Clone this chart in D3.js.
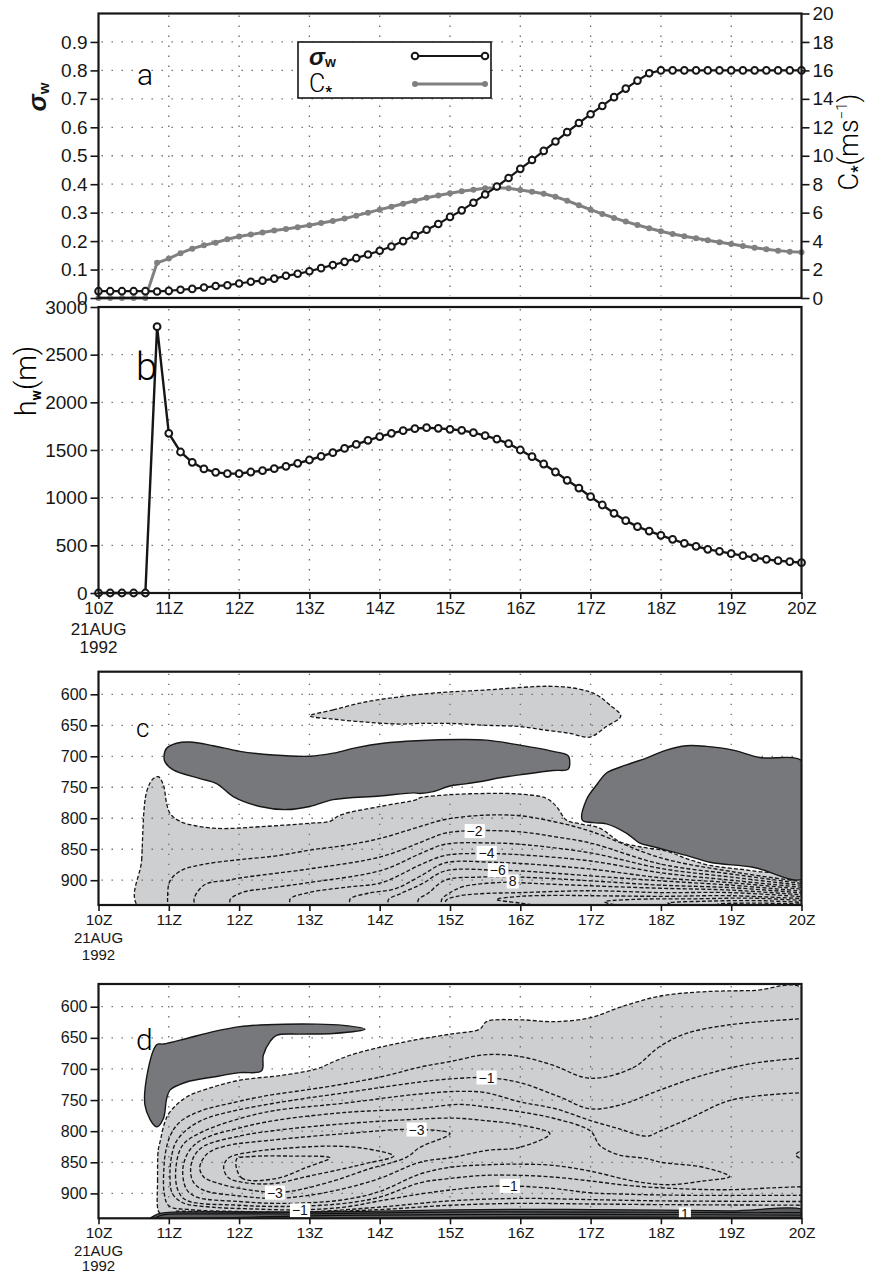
<!DOCTYPE html>
<html><head><meta charset="utf-8">
<script src="https://cdn.jsdelivr.net/npm/d3@7"></script>
<style>body{margin:0;background:#fff}svg{display:block}</style>
</head><body>
<svg id="chart" width="869" height="1274"></svg>
<script>
// ---------------- DATA ----------------
const timeMinutes = [0,10,20,30,40,50,60,70,80,90,100,110,120,130,140,150,160,170,180,190,200,210,220,230,240,250,260,270,280,290,300,310,320,330,340,350,360,370,380,390,400,410,420,430,440,450,460,470,480,490,500,510,520,530,540,550,560,570,580,590,600];
const sigmaW = [0.024,0.024,0.024,0.024,0.024,0.023,0.025,0.029,0.032,0.037,0.042,0.045,0.051,0.057,0.061,0.068,0.078,0.085,0.094,0.105,0.116,0.127,0.140,0.153,0.166,0.181,0.200,0.220,0.240,0.260,0.285,0.308,0.335,0.364,0.392,0.422,0.454,0.485,0.517,0.550,0.583,0.615,0.646,0.675,0.706,0.736,0.764,0.790,0.800,0.800,0.800,0.800,0.800,0.800,0.800,0.800,0.800,0.800,0.800,0.800,0.800];
const cStar = [0,0,0,0,0,2.47,2.77,3.15,3.47,3.71,3.89,4.13,4.32,4.46,4.60,4.74,4.85,4.97,5.11,5.27,5.42,5.58,5.79,6.00,6.21,6.42,6.63,6.84,7.05,7.20,7.36,7.50,7.61,7.71,7.75,7.71,7.59,7.47,7.33,7.12,6.84,6.52,6.21,5.91,5.63,5.37,5.13,4.90,4.69,4.50,4.34,4.20,4.06,3.92,3.80,3.66,3.54,3.43,3.33,3.26,3.22];
const hW = [0,0,0,0,0,2794,1675,1479,1371,1301,1266,1252,1252,1269,1283,1304,1329,1360,1395,1434,1472,1517,1559,1601,1640,1675,1703,1724,1734,1727,1717,1706,1682,1650,1615,1566,1500,1430,1353,1269,1182,1101,1010,923,836,759,696,650,605,563,521,490,458,437,413,392,371,353,339,329,318];

const hourTicks = [0,1,2,3,4,5,6,7,8,9,10];
const hourLabels = ["10Z","11Z","12Z","13Z","14Z","15Z","16Z","17Z","18Z","19Z","20Z"];
const dateLabels = ["21AUG","1992"];
const sigmaTicks = [0,0.1,0.2,0.3,0.4,0.5,0.6,0.7,0.8,0.9];
const sigmaTickLabels = ["0","0.1","0.2","0.3","0.4","0.5","0.6","0.7","0.8","0.9"];
const cStarTicks = [0,2,4,6,8,10,12,14,16,18,20];
const hTicks = [0,500,1000,1500,2000,2500,3000];
const pTicks = [600,650,700,750,800,850,900];

// Panel c: contour outlines, [hour after 10Z, hPa]
const cUpperTongue = [[3.007,635],[3.339,625],[3.813,612],[4.287,604],[4.571,600],[5.007,596],[5.519,593],[5.993,589],[6.372,587],[6.704,589],[6.988,596],[7.13,604],[7.272,617],[7.429,635],[7.225,652],[6.988,669],[6.704,663],[6.372,658],[5.993,652],[5.519,650],[5.007,647],[4.571,647],[4.287,648],[3.813,645],[3.339,640]];
const cDarkLeft = [[0.932,700],[0.969,687],[1.11,679],[1.3,677],[1.633,683],[2.012,692],[2.486,698],[3.007,700],[3.339,695],[3.671,686],[4.05,679],[4.524,675],[5.14,673],[5.519,674],[5.993,682],[6.467,692],[6.68,699],[6.704,711],[6.68,721],[6.467,723],[5.993,730],[5.685,735],[5.519,739],[5.187,745],[4.998,748],[4.761,757],[4.571,760],[4.476,759],[4.003,764],[3.339,770],[3.007,781],[2.676,786],[2.297,781],[1.917,765],[1.68,744],[1.443,736],[1.064,722],[0.946,709]];
const cDarkRight = [[6.883,803],[6.941,770],[7.1,744],[7.225,727],[7.509,714],[7.793,703],[8.078,690],[8.362,683],[8.646,684],[9.026,690],[9.405,702],[10.05,711],[10.05,896],[9.31,879],[8.697,871],[8.362,860],[7.893,846],[7.7,840],[7.509,824],[7.225,809],[7.036,807]];
const cZero = [[0.581,945],[0.614,867],[0.685,757],[0.78,736],[0.851,733],[0.922,746],[0.969,776],[1.017,792],[1.159,805],[1.633,816],[2.391,813],[3.007,808],[3.292,805],[3.434,795],[4.003,781],[4.524,770],[4.571,767],[5.007,762],[5.519,760],[5.993,761],[6.372,768],[6.514,781],[6.656,803],[6.846,809],[7.13,816],[7.415,838],[7.7,846],[8.078,853],[8.362,865],[8.694,876],[9.31,885],[10.05,900],[10.05,945]];
const cNeg1 = [[0.99,945],[0.983,929],[1.017,901],[1.183,884],[1.514,874],[1.988,867],[2.509,861],[3.031,851],[3.552,843],[4.026,832],[4.5,816],[4.93,802],[5.5,795],[6.0,796],[6.5,806],[7.0,821],[8.0,864],[9.0,886],[10.05,903]];
const cNeg2 = [[1.40,945],[1.358,931],[1.514,907],[1.846,900],[2.036,896],[2.983,882],[4.026,862],[4.6,838],[4.93,824],[5.35,820],[6.0,822],[6.5,830],[7.0,840],[8.0,874],[9.0,890],[10.05,906]];
const cNeg3 = [[1.9,945],[1.87,932],[2.036,920],[2.415,913],[2.983,904],[4.026,884],[4.6,856],[4.93,842],[5.6,840],[6.0,842],[7.0,856],[8.0,881],[9.0,895],[10.05,909]];
const cNeg4 = [[2.75,945],[2.723,931],[2.983,920],[3.552,911],[4.026,904],[4.6,874],[4.93,860],[5.52,857],[6.0,859],[7.0,869],[8.0,888],[9.0,900],[10.05,912]];
const cNeg5 = [[3.6,945],[3.576,931],[3.836,921],[4.216,914],[4.6,892],[4.93,872],[5.6,871],[6.0,873],[7.0,882],[8.0,896],[9.0,904],[10.05,915]];
const cNeg6 = [[4.15,945],[4.121,932],[4.31,921],[4.6,906],[4.93,885],[5.68,884],[6.0,885],[7.0,893],[8.0,901],[9.0,908],[10.05,918]];
const cNeg7 = [[4.57,945],[4.547,932],[4.689,921],[4.93,900],[5.4,895],[6.0,895],[7.0,901],[8.0,908],[9.0,912],[10.05,921]];
const cNeg8 = [[4.90,945],[4.879,932],[4.974,922],[5.2,910],[5.89,903],[6.0,904],[7.0,909],[8.0,913],[9.0,916],[10.05,924]];
const cNeg9 = [[4.96,945],[4.94,933],[5.1,926],[5.4,922],[6.0,920],[7.0,917],[8.0,920],[9.0,920],[10.05,927]];
const cNeg10 = [[6.6,945],[6.0,937],[5.66,931],[6.0,926],[6.5,924.5],[7.0,925],[8.0,926],[9.0,925],[10.05,930]];
const cNeg11 = [[7.6,945],[7.2,935],[7.6,931],[8.5,930],[9.3,929],[10.05,933]];
const cNeg12 = [[8.4,945],[8.1,937],[8.6,934],[9.4,933],[10.05,936]];
const cNeg13 = [[9.0,945],[8.8,939],[9.3,937],[10.05,938.5]];
const cLabels = [{t:"\u22122",h:5.35,p:820.6},{t:"\u22124",h:5.52,p:856},{t:"\u22126",h:5.68,p:884},{t:"8",h:5.89,p:902}];

// Panel d
const dDark = [[0.828,661],[0.661,758],[0.828,793],[0.922,780],[0.969,748],[1.017,734],[1.254,721],[1.633,713],[2.012,706],[2.32,703],[2.344,678],[2.439,656],[2.533,646],[2.865,644],[3.339,643],[3.789,636],[3.481,630],[3.102,628],[2.391,629],[2.012,632],[1.633,640],[1.254,651],[0.922,660]];
const dZero = [[0.85,928],[0.84,880],[0.85,830],[0.874,818],[0.945,785],[1.017,769],[1.254,745],[1.633,729],[2.012,718],[2.628,710],[3.102,700],[3.292,691],[3.576,678],[4.05,664],[4.524,653],[5.007,644],[5.424,636],[5.519,624],[5.993,621],[6.467,624],[6.988,618],[7.414,601],[7.983,583],[8.599,576],[9.31,574],[10.05,573],[10.05,945],[1.0,945],[0.9,935]];
const dPositive = [[0.71,945],[0.85,933],[1.0,930.5],[2,930],[3,930],[4,928.5],[5,926.5],[6,925.5],[7,926],[8,927],[9,928],[10.05,928],[10.05,945]];
const dPos1 = [[0.75,943],[0.9,935],[1.5,933],[3,933],[5,930],[7,930],[9,931],[10.05,931]];
const dPos2 = [[1.2,941],[3,936],[5,934],[8,934],[10.05,935]];
const dPos3 = [[3,941],[6,938],[10.05,938.5]];
const dNeg05 = [[10.05,619],[8.978,629],[8.362,643],[7.983,664],[7.604,698],[6.988,715],[6.467,694],[5.993,680],[5.519,677],[5.007,688],[4.571,697],[4.05,712],[3.34,727],[2.87,735],[2.39,743],[1.92,754],[1.44,768],[1.16,785],[1.03,805],[0.96,830],[0.93,860],[0.935,900],[1.0,920],[1.3,926],[2.0,929],[3.0,929.5],[4.0,922],[5.0,912],[6.0,908],[7.0,910],[8.0,912],[10.05,913]];
const dNeg1 = [[10.05,682],[9.31,691],[8.599,710],[7.983,734],[7.414,758],[6.988,764],[6.562,745],[5.993,722],[5.519,714],[5.007,716],[4.571,721],[4.0,730],[3.4,740],[2.9,748],[2.4,757],[1.9,768],[1.5,781],[1.25,798],[1.1,818],[1.04,840],[1.016,870],[1.05,900],[1.2,915],[1.6,922],[2.2,925],[2.865,926.5],[3.5,922],[4.0,912],[4.571,901],[5.045,894],[5.519,889],[5.85,888],[6.467,892],[6.988,899],[7.414,901],[8.362,903],[10.05,903]];
const dNeg15 = [[10.05,738],[9.0,750],[8.4,780],[8.0,799],[7.8,808],[7.4,796],[7.0,783],[6.5,764],[6.0,753],[5.5,738],[5.14,736],[4.5,741],[3.5,755],[2.5,767],[2.0,780],[1.5,800],[1.2,822],[1.1,860],[1.13,895],[1.25,911],[2.0,919],[2.5,921],[3.0,920],[3.5,916],[4.0,906],[4.571,883],[5.0,876],[5.5,871],[6.0,871],[6.5,874],[7.0,880],[7.6,888],[8.4,893],[9.0,894],[9.6,891],[10.05,889]];
const dNeg2 = [[8.978,873],[8.599,858],[8.0,850],[7.8,844],[7.4,838],[7.13,823],[7.0,800],[6.5,780],[6.0,769],[5.5,761],[5.14,757],[4.5,764],[3.5,770],[2.5,783],[2.0,795],[1.5,812],[1.3,830],[1.2,860],[1.25,893],[1.4,906],[2.0,913],[2.5,916],[3.0,915],[3.5,910],[4.0,897],[4.571,869],[5.007,858],[5.519,854],[5.993,853],[6.467,855],[6.988,864],[7.651,881],[8.125,886],[8.599,880]];
const dNeg25 = [[6.42,804],[5.993,826],[5.519,831],[5.045,842],[4.571,850],[4.0,876],[3.5,892],[3.0,903],[2.5,908],[2.0,904],[1.5,895],[1.35,882],[1.31,862],[1.36,840],[1.5,824],[2.0,808],[2.5,799],[3.5,788],[4.5,781],[5.05,779],[5.5,783],[6.0,790]];
const dNeg3 = [[5.0,804],[4.52,797],[3.5,804],[2.5,814],[1.8,824],[1.55,836],[1.44,858],[1.5,874],[1.68,883],[2.01,892],[2.51,898.6],[2.77,896],[3.34,880],[3.81,862],[4.38,842],[4.571,826]];
const dNeg35 = [[1.78,858],[1.85,843],[2.2,833],[2.5,829],[3.3,824],[3.8,828],[4.2,840],[3.8,852],[3.5,860],[3.0,872],[2.5,884],[2.1,883],[1.85,875]];
const dNeg4 = [[1.964,845],[2.036,875],[2.533,876],[2.96,858],[3.292,843],[2.723,840],[2.154,841]];
const dNegEdge = [[10.05,828],[9.92,838],[10.05,848]];
const dNegLow = [[1.1,928.5],[2,929.8],[3,929.8],[4,926],[5,919],[6,916],[7,917],[8,918],[10.05,919]];
const dLabels = [{t:"\u22121",h:5.519,p:713.7},{t:"\u22123",h:4.524,p:797.3},{t:"\u22123",h:2.509,p:898.6},{t:"\u22121",h:2.865,p:927.2},{t:"\u22121",h:5.85,p:887.8},{t:"1",h:8.34,p:933.6}];

// ---------------- DRAWING ----------------
const FONT = "'Liberation Sans', Arial, Helvetica, sans-serif";
const THIN = "Roboto, 'DejaVu Sans', sans-serif";
const INK = "#161616", LIGHT = "#cecfd1", DARK = "#77787b", GRAYLINE = "#808080";
const svg = d3.select("#chart");
const hours = timeMinutes.map(m => m / 60);

const x = d3.scaleLinear().domain([0, 10]).range([98.5, 801.5]);
const ya = d3.scaleLinear().domain([0, 1]).range([298, 13.5]);
const yaR = d3.scaleLinear().domain([0, 20]).range([298, 13.5]);
const yb = d3.scaleLinear().domain([0, 3000]).range([593, 307]);
const yc = d3.scaleLinear().domain([563.5, 940]).range([671.7, 905]);
const yd = d3.scaleLinear().domain([563.5, 940]).range([984, 1218.3]);

function gridLines(g, yS, yVals, y0, y1) {
  const gg = g.append("g").attr("stroke", "#6a6a6a").attr("stroke-width", 1.3).attr("stroke-dasharray", "1.4,8.6");
  [1,2,3,4,5,6,7,8,9].forEach(h => gg.append("line").attr("x1", x(h)).attr("x2", x(h)).attr("y1", y0 + 2).attr("y2", y1 - 2));
  yVals.forEach(v => gg.append("line").attr("x1", x(0) + 3).attr("x2", x(10) - 3).attr("y1", yS(v)).attr("y2", yS(v)));
}
function styleAxis(g, fs) {
  g.select(".domain").remove();
  g.attr("font-family", FONT).attr("font-size", fs);
  g.selectAll("line").attr("stroke", INK).attr("stroke-width", 1.6);
  g.selectAll("text").attr("fill", INK);
}
function frame(y0, y1) {
  svg.append("rect").attr("x", x(0)).attr("y", y0).attr("width", x(10) - x(0)).attr("height", y1 - y0)
    .attr("fill", "none").attr("stroke", INK).attr("stroke-width", 2.2);
}
function xAxis(yBottom, fs, dfs, d1, d2) {
  const g = svg.append("g").attr("transform", `translate(0,${yBottom})`)
    .call(d3.axisBottom(x).tickValues(hourTicks).tickFormat((d, i) => hourLabels[i]).tickSize(6).tickPadding(3));
  styleAxis(g, fs);
  svg.append("text").attr("x", x(0)).attr("y", yBottom + d1).attr("text-anchor", "middle").attr("font-family", FONT).attr("font-size", dfs).attr("fill", INK).text(dateLabels[0]);
  svg.append("text").attr("x", x(0)).attr("y", yBottom + d2).attr("text-anchor", "middle").attr("font-family", FONT).attr("font-size", dfs).attr("fill", INK).text(dateLabels[1]);
}
function panelLetter(t, px, py, fs) {
  svg.append("text").attr("x", px).attr("y", py).attr("font-family", THIN).attr("font-weight", 300).attr("font-size", fs).attr("fill", "#000").text(t);
}

// ===== Panel a =====
gridLines(svg, ya, [0.1,0.2,0.3,0.4,0.5,0.6,0.7,0.8,0.9], 13.5, 298);
svg.append("path").attr("d", d3.line().x((d, i) => x(hours[i])).y(d => yaR(d))(cStar)).attr("fill", "none").attr("stroke", GRAYLINE).attr("stroke-width", 3);
svg.append("g").selectAll("circle").data(cStar).join("circle").attr("cx", (d, i) => x(hours[i])).attr("cy", d => yaR(d)).attr("r", 3).attr("fill", GRAYLINE);
svg.append("path").attr("d", d3.line().x((d, i) => x(hours[i])).y(d => ya(d))(sigmaW)).attr("fill", "none").attr("stroke", INK).attr("stroke-width", 2.2);
svg.append("g").selectAll("circle").data(sigmaW).join("circle").attr("cx", (d, i) => x(hours[i])).attr("cy", d => ya(d)).attr("r", 3.3).attr("fill", "#fff").attr("stroke", INK).attr("stroke-width", 2);
frame(13.5, 298);
styleAxis(svg.append("g").attr("transform", `translate(${x(0)},0)`).call(d3.axisLeft(ya).tickValues(sigmaTicks).tickFormat((d, i) => sigmaTickLabels[i]).tickSize(8).tickPadding(3)), 19);
styleAxis(svg.append("g").attr("transform", `translate(${x(10)},0)`).call(d3.axisRight(yaR).tickValues(cStarTicks).tickFormat(d3.format("d")).tickSize(8).tickPadding(3)), 19);
// legend
svg.append("rect").attr("x", 298).attr("y", 42).attr("width", 193).attr("height", 56).attr("fill", "#fff").attr("stroke", INK).attr("stroke-width", 1.6);
svg.append("line").attr("x1", 415).attr("x2", 485).attr("y1", 56).attr("y2", 56).attr("stroke", INK).attr("stroke-width", 2.2);
[415, 485].forEach(cx => svg.append("circle").attr("cx", cx).attr("cy", 56).attr("r", 3.3).attr("fill", "#fff").attr("stroke", INK).attr("stroke-width", 2));
svg.append("line").attr("x1", 415).attr("x2", 485).attr("y1", 84).attr("y2", 84).attr("stroke", GRAYLINE).attr("stroke-width", 3);
[415, 485].forEach(cx => svg.append("circle").attr("cx", cx).attr("cy", 84).attr("r", 3).attr("fill", GRAYLINE));
const lg1 = svg.append("text").attr("x", 309).attr("y", 65).attr("font-family", FONT).attr("fill", INK);
lg1.append("tspan").attr("font-size", 24).attr("font-style", "italic").attr("font-weight", "bold").text("σ");
lg1.append("tspan").attr("font-size", 14).attr("dy", 2).attr("font-weight", "bold").text("w");
const lg2 = svg.append("text").attr("x", 309).attr("y", 92).attr("font-family", THIN).attr("font-weight", 300).attr("fill", "#000");
lg2.append("tspan").attr("font-size", 25).text("C");
lg2.append("tspan").attr("font-size", 15).attr("dy", 5).attr("font-weight", "bold").text("*");
// axis titles
const sl = svg.append("text").attr("transform", "translate(46,97) rotate(-90)").attr("text-anchor", "middle").attr("font-family", FONT).attr("fill", INK);
sl.append("tspan").attr("font-size", 26).attr("font-style", "italic").attr("font-weight", "bold").text("σ");
sl.append("tspan").attr("font-size", 15).attr("dy", 3).attr("font-weight", "bold").text("w");
const rl = svg.append("text").attr("transform", "translate(858,142) rotate(-90)").attr("text-anchor", "middle").attr("font-family", THIN).attr("font-weight", 300).attr("fill", "#000");
rl.append("tspan").attr("font-size", 27).text("C");
rl.append("tspan").attr("font-size", 16).attr("dy", 5).attr("font-weight", "bold").text("*");
rl.append("tspan").attr("font-size", 27).attr("dy", -5).text("(ms");
rl.append("tspan").attr("font-size", 15).attr("dy", -11).text("\u22121");
rl.append("tspan").attr("font-size", 27).attr("dy", 11).text(")");
panelLetter("a", 137, 85, 30);

// ===== Panel b =====
gridLines(svg, yb, [500,1000,1500,2000,2500], 307, 593);
svg.append("path").attr("d", d3.line().x((d, i) => x(hours[i])).y(d => yb(d))(hW)).attr("fill", "none").attr("stroke", INK).attr("stroke-width", 2.4);
svg.append("g").selectAll("circle").data(hW).join("circle").attr("cx", (d, i) => x(hours[i])).attr("cy", d => yb(d)).attr("r", 3.4).attr("fill", "#fff").attr("stroke", INK).attr("stroke-width", 2);
frame(307, 593);
styleAxis(svg.append("g").attr("transform", `translate(${x(0)},0)`).call(d3.axisLeft(yb).tickValues(hTicks).tickFormat(d3.format("d")).tickSize(8).tickPadding(3)), 19);
xAxis(593, 17, 17, 42, 60);
const hl = svg.append("text").attr("transform", "translate(36,381) rotate(-90)").attr("text-anchor", "middle").attr("font-family", THIN).attr("font-weight", 300).attr("fill", "#000");
hl.append("tspan").attr("font-size", 29).text("h");
hl.append("tspan").attr("font-size", 14).attr("dy", 5).attr("font-weight", "bold").text("w");
hl.append("tspan").attr("font-size", 29).attr("dy", -5).text("(m)");
panelLetter("b", 136, 380, 38);

// ===== contour panels =====
const openCurve = d3.curveCatmullRom.alpha(0.5), closedCurve = d3.curveCatmullRomClosed.alpha(0.5);
function contourPanel(id, y0, y1) {
  svg.append("clipPath").attr("id", id).append("rect").attr("x", x(0)).attr("y", y0).attr("width", x(10) - x(0)).attr("height", y1 - y0);
  return svg.append("g").attr("clip-path", `url(#${id})`);
}
function shape(g, pts, yS, fill, stroke, dashed, closed, sw) {
  const gen = d3.line().x(d => x(d[0])).y(d => yS(d[1])).curve(closed ? closedCurve : openCurve);
  g.append("path").attr("d", gen(pts)).attr("fill", fill).attr("stroke", stroke)
    .attr("stroke-width", sw || 1.3).attr("stroke-dasharray", dashed ? "4,2.2" : null).attr("stroke-linejoin", "round");
}
function labels(g, labs, yS, fs) {
  labs.forEach(l => {
    const t = g.append("text").attr("x", x(l.h)).attr("y", yS(l.p)).attr("dy", "0.36em").attr("text-anchor", "middle")
      .attr("font-family", FONT).attr("font-size", fs).attr("fill", INK).text(l.t);
    const bb = t.node().getBBox();
    g.insert("rect", () => t.node()).attr("x", bb.x - 2).attr("y", bb.y + 1).attr("width", bb.width + 4).attr("height", bb.height - 2).attr("fill", "#fff");
  });
}
function pAxis(yS) {
  styleAxis(svg.append("g").attr("transform", `translate(${x(0)},0)`).call(d3.axisLeft(yS).tickValues(pTicks).tickFormat(d3.format("d")).tickSize(8).tickPadding(3)), 16);
}

// ===== Panel c =====
const gc = contourPanel("clipc", 671.7, 905);
shape(gc, cZero, yc, LIGHT, "none", false, true);
shape(gc, cUpperTongue, yc, LIGHT, "none", false, true);
gridLines(gc, yc, pTicks, 671.7, 905);
shape(gc, cZero, yc, "none", INK, true, true);
shape(gc, cUpperTongue, yc, "none", INK, true, true);
shape(gc, cDarkLeft, yc, DARK, INK, false, true, 1.4);
shape(gc, cDarkRight, yc, DARK, INK, false, true, 1.4);
[cNeg1, cNeg2, cNeg3, cNeg4, cNeg5, cNeg6, cNeg7, cNeg8, cNeg9, cNeg10, cNeg11, cNeg12, cNeg13].forEach(l => shape(gc, l, yc, "none", INK, true, false, 1.35));
labels(gc, cLabels, yc, 14);
frame(671.7, 905);
pAxis(yc);
xAxis(905, 15.5, 15, 38, 54.5);
panelLetter("c", 136, 737, 26);

// ===== Panel d =====
const gd = contourPanel("clipd", 984, 1218.3);
shape(gd, dZero, yd, LIGHT, "none", false, true);
gridLines(gd, yd, pTicks, 984, 1218.3);
shape(gd, dZero, yd, "none", INK, true, true);
shape(gd, dPositive, yd, "#5a5b5e", INK, false, true, 1.3);
[dPos1, dPos2, dPos3].forEach(l => shape(gd, l, yd, "none", "#111", false, false, 1.2));
shape(gd, dDark, yd, DARK, INK, false, true, 1.4);
[dNeg05, dNeg1, dNeg15, dNegEdge, dNegLow].forEach(l => shape(gd, l, yd, "none", INK, true, false, 1.35));
[dNeg2, dNeg25, dNeg3, dNeg35, dNeg4].forEach(l => shape(gd, l, yd, "none", INK, true, true, 1.35));
labels(gd, dLabels, yd, 14);
frame(984, 1218.3);
pAxis(yd);
xAxis(1218.3, 15.5, 15, 37.5, 53);
panelLetter("d", 136, 1050, 30);
</script>
</body></html>
